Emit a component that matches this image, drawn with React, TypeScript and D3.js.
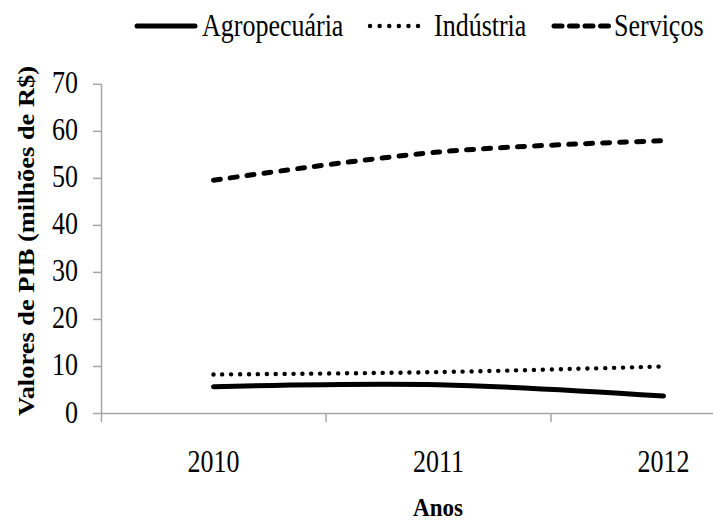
import React from "react";
import * as d3 from "d3";

const years = ["2010", "2011", "2012"];
const agropecuaria = [5.7, 6.1, 3.7];
const industria = [8.3, 8.8, 10.0];
const servicos = [49.6, 55.6, 58.0];
const yTicks = [0, 10, 20, 30, 40, 50, 60, 70];
const seriesNames = ["Agropecuária", "Indústria", "Serviços"];

const W = 713;
const H = 522;
const FONT = '"Liberation Serif", Tinos, "Times New Roman", "DejaVu Serif", serif';
const AXIS = "#a6a6a6";

export default function App() {
  const x = d3.scaleBand<string>().domain(years).range([101, 776]);
  const y = d3.scaleLinear().domain([0, 70]).range([413.5, 84.3]);
  const cx = (d: string) => (x(d) as number) + x.bandwidth() / 2;

  const line = d3
    .line<number>()
    .x((_, i) => cx(years[i]))
    .y((v) => y(v))
    .curve(d3.curveCatmullRom.alpha(0));

  const styles = [
    { dash: "none", width: 5, cap: "round" },
    { dash: "0.1 8.8", width: 4.4, cap: "round" },
    { dash: "7 10", width: 5, cap: "round" },
  ];
  const legendDash = ["none", "0.1 9.5", "8 7.5"];
  const data = [agropecuaria, industria, servicos];

  const legend = [
    { x0: 137, x1: 195, tx: 202 },
    { x0: 370, x1: 426, tx: 434 },
    { x0: 554, x1: 610, tx: 614 },
  ];

  const stretch = (tx: number, ty: number) => `translate(${tx},${ty}) scale(1,1.2)`;
  const ts = { fontFamily: FONT } as React.CSSProperties;

  return (
    <svg
      width={W}
      height={H}
      style={{ position: "absolute", left: 0, top: 0, background: "#fff" }}
    >
      <rect width={W} height={H} fill="#fff" />
      {/* y axis */}
      <line x1={101.5} x2={101.5} y1={y(70)} y2={422} stroke={AXIS} strokeWidth={1.5} />
      {yTicks.map((t) => (
        <g key={t}>
          <line x1={93} x2={101.5} y1={y(t)} y2={y(t)} stroke={AXIS} strokeWidth={1.5} />
          <text
            transform={stretch(78, y(t) + 9)}
            textAnchor="end"
            fontSize={26}
            fill="#000"
            style={ts}
          >
            {t}
          </text>
        </g>
      ))}
      {/* x axis */}
      <line x1={101.5} x2={W} y1={y(0)} y2={y(0)} stroke={AXIS} strokeWidth={1.5} />
      {years.map((yr) => (
        <line
          key={"t" + yr}
          x1={(x(yr) as number) + x.bandwidth()}
          x2={(x(yr) as number) + x.bandwidth()}
          y1={y(0)}
          y2={422}
          stroke={AXIS}
          strokeWidth={1.5}
        />
      ))}
      {years.map((yr) => (
        <text
          key={"l" + yr}
          transform={stretch(cx(yr), 472)}
          textAnchor="middle"
          fontSize={26}
          fill="#000"
          style={ts}
        >
          {yr}
        </text>
      ))}
      {/* series */}
      {data.map((vals, i) => (
        <path
          key={seriesNames[i]}
          d={line(vals) as string}
          fill="none"
          stroke="#000"
          strokeWidth={styles[i].width}
          strokeDasharray={styles[i].dash}
          strokeLinecap={styles[i].cap as any}
        />
      ))}
      {/* legend */}
      {seriesNames.map((name, i) => (
        <g key={"lg" + name}>
          <line
            x1={legend[i].x0}
            x2={legend[i].x1}
            y1={26}
            y2={26}
            stroke="#000"
            strokeWidth={styles[i].width}
            strokeDasharray={legendDash[i]}
            strokeLinecap={styles[i].cap as any}
          />
          <text transform={stretch(legend[i].tx, 36)} fontSize={26} fill="#000" style={ts}>
            {name}
          </text>
        </g>
      ))}
      {/* axis titles */}
      <text
        transform={`translate(34, 241) rotate(-90)`}
        textAnchor="middle"
        fontSize={24}
        fontWeight="bold"
        textLength={350}
        lengthAdjust="spacingAndGlyphs"
        fill="#000"
        style={ts}
      >
        Valores de PIB (milhões de R$)
      </text>
      <text
        transform={`translate(438, 516) scale(1,1.1)`}
        textAnchor="middle"
        fontSize={23}
        fontWeight="bold"
        fill="#000"
        style={ts}
      >
        Anos
      </text>
    </svg>
  );
}
